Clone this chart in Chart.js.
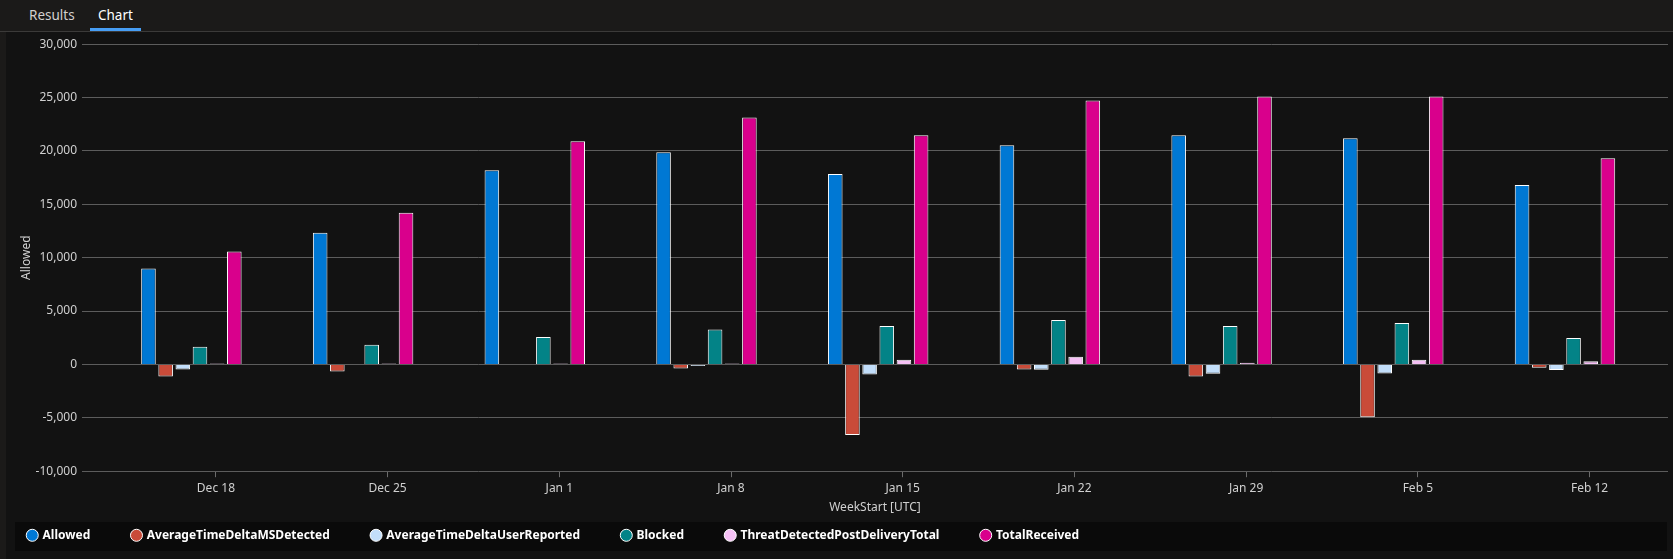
<!DOCTYPE html>
<html>
<head>
<meta charset="utf-8">
<script src="https://cdn.jsdelivr.net/npm/chart.js@4.4.1/dist/chart.umd.min.js"></script>
<style>
html, body { margin: 0; padding: 0; width: 1673px; height: 559px; overflow: hidden; background: #1b1a19; font-family: 'Segoe UI', 'Noto Sans', sans-serif; }
.tabs { position: absolute; left: 0; top: 0; width: 1673px; height: 31px; border-bottom: 1px solid #3b3a39; }
.tab { position: absolute; top: 6px; font-size: 13.5px; color: #d2d0ce; }
.tab.active { color: #ffffff; }
.underline { position: absolute; left: 90px; top: 28px; width: 51px; height: 3px; background: #479ef5; }
.wrap { position: absolute; left: 6px; top: 32px; width: 1667px; height: 527px; background: #121212; }
</style>
</head>
<body>
<div class="tabs">
  <span class="tab" style="left:29px">Results</span>
  <span class="tab active" style="left:98px">Chart</span>
  <div class="underline"></div>
</div>
<div class="wrap"><canvas id="chart"></canvas></div>
<script>
const weekStarts = ['2023-12-17', '2023-12-24', '2023-12-31', '2024-01-07', '2024-01-14', '2024-01-21', '2024-01-28', '2024-02-04', '2024-02-11'];
const allowed = [8980, 12340, 18200, 19880, 17830, 20530, 21470, 21190, 16810];
const avgTimeDeltaMSDetected = [-1120, -650, null, -370, -6620, -470, -1120, -4940, -310];
const avgTimeDeltaUserReported = [-470, null, null, -150, -930, -490, -870, -840, -530];
const blocked = [1650, 1840, 2580, 3280, 3600, 4160, 3600, 3890, 2480];
const threatDetectedPostDelivery = [80, 90, 80, 100, 440, 720, 160, 440, 300];
const totalReceived = [10570, 14200, 20910, 23140, 21470, 24730, 25100, 25100, 19320];

const tickDates = ['2023-12-18', '2023-12-25', '2024-01-01', '2024-01-08', '2024-01-15', '2024-01-22', '2024-01-29', '2024-02-05', '2024-02-12'];
const tickLabels = ['Dec 18', 'Dec 25', 'Jan 1', 'Jan 8', 'Jan 15', 'Jan 22', 'Jan 29', 'Feb 5', 'Feb 12'];

const colors = {
    allowed: '#0078d4',
    msDetected: '#c94b39',
    userReported: '#c2defa',
    blocked: '#038387',
    threat: '#f5c0f5',
    total: '#d9008c'
};

// days from the first tick (Dec 18)
const dayOf = s => (Date.parse(s + 'T00:00:00Z') - Date.parse(tickDates[0] + 'T00:00:00Z')) / 864e5;
const points = arr => weekStarts.map((d, i) => ({ x: dayOf(d), y: arr[i] }));

const font = { family: "'Segoe UI', 'Noto Sans', sans-serif", size: 12 };
const textColor = '#d0d0d0';
const itemGap = 42;

const series = [
    ['Allowed', allowed, colors.allowed],
    ['AverageTimeDeltaMSDetected', avgTimeDeltaMSDetected, colors.msDetected],
    ['AverageTimeDeltaUserReported', avgTimeDeltaUserReported, colors.userReported],
    ['Blocked', blocked, colors.blocked],
    ['ThreatDetectedPostDeliveryTotal', threatDetectedPostDelivery, colors.threat],
    ['TotalReceived', totalReceived, colors.total]
];

// legend strip: fixed height, dark box, items spaced wider than the edge margin
const legendBox = {
    id: 'legendBox',
    beforeLayout(chart) {
        const l = chart.legend;
        if (l && !l._patched) {
            const fit = l.fit;
            l.fit = function () { fit.call(this); this.height = 34; };
            l._patched = true;
        }
    },
    afterLayout(chart) {
        const l = chart.legend;
        chart._legendRect = { x: 9, y: l.top + 4, w: chart.width - 15, h: 29 };
        l.left -= itemGap - 16;
        l.top = chart._legendRect.y + chart._legendRect.h / 2 - itemGap - 7.2;
    },
    beforeDraw(chart) {
        const r = chart._legendRect;
        const ctx = chart.ctx;
        ctx.save();
        ctx.fillStyle = '#0a0a0a';
        ctx.fillRect(r.x, r.y, r.w, r.h);
        ctx.restore();
    }
};

new Chart(document.getElementById('chart'), {
    type: 'bar',
    data: {
        datasets: series.map(([label, arr, color]) => ({
            label: label,
            data: points(arr),
            backgroundColor: color,
            borderColor: '#ffffff',
            borderWidth: 1,
            categoryPercentage: 0.6,
            barPercentage: 0.85
        }))
    },
    options: {
        responsive: true,
        maintainAspectRatio: false,
        animation: false,
        layout: { padding: { left: 6, right: 5, top: -2, bottom: 7 } },
        scales: {
            x: {
                type: 'linear',
                min: -5.46,
                max: 59.2,
                offset: false,
                afterBuildTicks: axis => { axis.ticks = tickDates.map(d => ({ value: dayOf(d) })); },
                ticks: {
                    callback: (v, i) => tickLabels[i],
                    color: textColor,
                    font: font,
                    maxRotation: 0,
                    autoSkip: false,
                    padding: 4
                },
                grid: { drawOnChartArea: false, drawTicks: true, tickLength: 6, color: '#6b6b6b', offset: false },
                border: { display: false },
                title: { display: true, text: 'WeekStart [UTC]', color: textColor, font: font, padding: { top: 1, bottom: 3 } }
            },
            y: {
                min: -10000,
                max: 30000,
                afterFit: s => { s.width = 70; },
                ticks: { stepSize: 5000, color: textColor, font: font, padding: 5 },
                grid: { color: '#5c5c5c', drawTicks: false },
                border: { display: false },
                title: { display: true, text: 'Allowed', color: textColor, font: font, padding: { top: 7, bottom: 1 } }
            }
        },
        plugins: {
            legend: {
                position: 'bottom',
                align: 'start',
                labels: {
                    usePointStyle: true,
                    pointStyle: 'circle',
                    boxWidth: 8.5,
                    boxHeight: 8.5,
                    padding: itemGap,
                    color: '#ffffff',
                    font: { family: font.family, size: 12, weight: 'bold' }
                }
            },
            tooltip: { enabled: false }
        }
    },
    plugins: [legendBox]
});
</script>
</body>
</html>
